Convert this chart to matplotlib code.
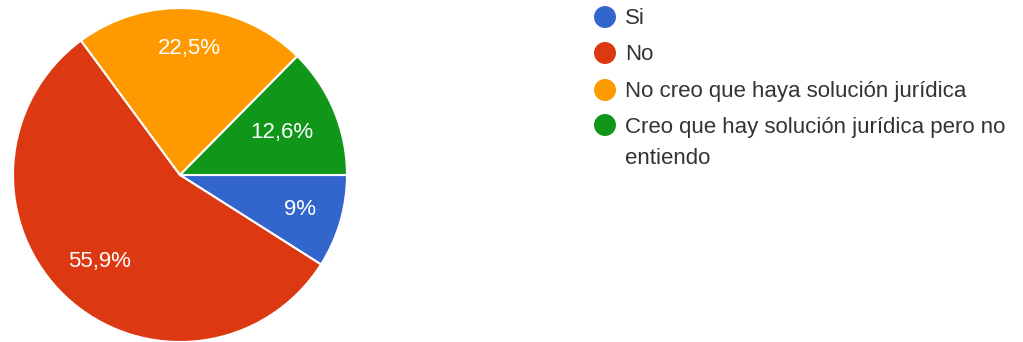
import numpy as np
import matplotlib.pyplot as plt

plt.rcParams['font.family'] = ['Liberation Sans', 'DejaVu Sans']

# survey answers and their shares (%)
labels = ["Si", "No", "No creo que haya solución jurídica",
          "Creo que hay solución jurídica pero no\nentiendo"]
shares = [9.0, 55.9, 22.5, 12.6]
colors = ["#3366cc", "#dc3912", "#ff9900", "#109618"]

# how far out (fraction of radius) each percentage sits
label_dist = [0.75, 0.71, 0.76, 0.66]

W, H = 1023, 342
fig = plt.figure(figsize=(W / 100, H / 100), dpi=100)

# pie: centre at (180, 175) px, radius 167 px
ax = fig.add_axes([13 / W, 0, 334 / W, 334 / H])
wedges, texts, autotexts = ax.pie(
    shares, colors=colors, startangle=0, counterclock=False,
    autopct=lambda p: f"{p:.1f}".replace(".", ",").replace(",0", "") + "%",
    radius=1,
    wedgeprops=dict(edgecolor="white", linewidth=1.5),
    textprops=dict(color="white", fontsize=16))
for w, t, d in zip(wedges, autotexts, label_dist):
    mid = np.deg2rad((w.theta1 + w.theta2) / 2)
    t.set_position((d * np.cos(mid), d * np.sin(mid)))
ax.set_xlim(-1, 1)
ax.set_ylim(-1, 1)
ax.set_aspect("equal")
ax.axis("off")

# legend on the right, drawn in pixel coordinates
lg = fig.add_axes([0, 0, 1, 1])
lg.set_xlim(0, W)
lg.set_ylim(H, 0)
lg.axis("off")
rows = [17, 53, 90, 125]
for y, lab, c in zip(rows, labels, colors):
    lg.scatter([605], [y], s=250, color=c, edgecolors="none")
    for i, line in enumerate(lab.split("\n")):
        lg.text(625, y + 2 + 31 * i, line, fontsize=16, color="#333333", va="center")

fig.savefig("out.png", dpi=100)
